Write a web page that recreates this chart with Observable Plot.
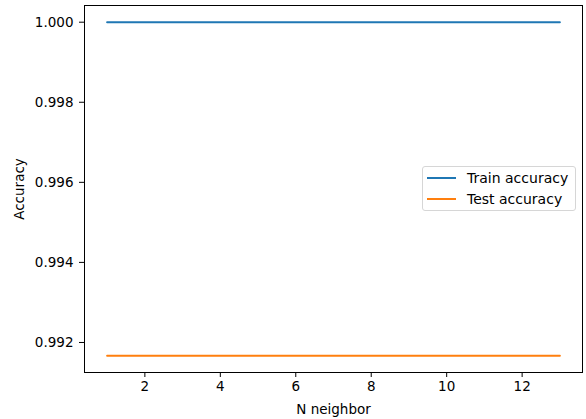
<!DOCTYPE html>
<html>
<head>
<meta charset="utf-8">
<script src="https://cdn.jsdelivr.net/npm/d3@7"></script>
<script src="https://cdn.jsdelivr.net/npm/@observablehq/plot@0.6"></script>
<style>
  html, body { margin: 0; padding: 0; background: #fff; }
  #wrap { position: relative; width: 586px; height: 419px; font-family: "DejaVu Sans", sans-serif; }
  #legend { position: absolute; left: 422px; top: 166px; width: 154px; height: 45px;
    border: 1px solid #d6d6d6; border-radius: 3px; background: rgba(255,255,255,0.8);
    font-size: 14px; color: #000; box-sizing: border-box; }
  .row { position: absolute; left: 4px; height: 16px; display: flex; align-items: center; }
  .sw { width: 29px; height: 2px; margin-right: 11px; }
</style>
</head>
<body>
<div id="wrap"></div>
<script>
const neighbors = [1, 2, 3, 4, 5, 6, 7, 8, 9, 10, 11, 12, 13];
const trainAccuracy = [1.0, 1.0, 1.0, 1.0, 1.0, 1.0, 1.0, 1.0, 1.0, 1.0, 1.0, 1.0, 1.0];
const testAccuracy = [0.991667, 0.991667, 0.991667, 0.991667, 0.991667, 0.991667, 0.991667, 0.991667, 0.991667, 0.991667, 0.991667, 0.991667, 0.991667];
const xTicks = [2, 4, 6, 8, 10, 12];
const yTicks = [0.992, 0.994, 0.996, 0.998, 1.000];
const seriesNames = ["Train accuracy", "Test accuracy"];
const seriesColors = ["#1f77b4", "#ff7f0e"];

const rows = neighbors.map((n, i) => ({n, train: trainAccuracy[i], test: testAccuracy[i]}));

const plot = Plot.plot({
  width: 586,
  height: 419,
  marginLeft: 84,
  marginRight: 4,
  marginTop: 5,
  marginBottom: 47,
  style: {fontFamily: "DejaVu Sans", fontSize: "13.5px", color: "#000", background: "#fff"},
  x: {domain: [0.4, 13.6]},
  y: {domain: [0.99125, 1.000417]},
  marks: [
    Plot.lineY(rows, {x: "n", y: "train", stroke: seriesColors[0], strokeWidth: 2}),
    Plot.lineY(rows, {x: "n", y: "test", stroke: seriesColors[1], strokeWidth: 2}),
    Plot.frame({stroke: "#000", strokeWidth: 1}),
    Plot.axisX({ticks: xTicks, tickFormat: d3.format("d"), tickSize: 5, tickPadding: 4,
      label: "N neighbor", labelAnchor: "center", labelArrow: "none", labelOffset: 41}),
    Plot.axisY({ticks: yTicks, tickFormat: d3.format(".3f"), tickSize: 5, tickPadding: 6,
      label: "Accuracy", labelAnchor: "center", labelArrow: "none", labelOffset: 70})
  ]
});

const wrap = document.getElementById("wrap");
wrap.appendChild(plot);

const legend = document.createElement("div");
legend.id = "legend";
seriesNames.forEach((name, i) => {
  const row = document.createElement("div");
  row.className = "row";
  row.style.top = (3 + i * 21) + "px";
  const sw = document.createElement("div");
  sw.className = "sw";
  sw.style.background = seriesColors[i];
  const t = document.createElement("span");
  t.textContent = name;
  row.appendChild(sw);
  row.appendChild(t);
  legend.appendChild(row);
});
wrap.appendChild(legend);
</script>
</body>
</html>
